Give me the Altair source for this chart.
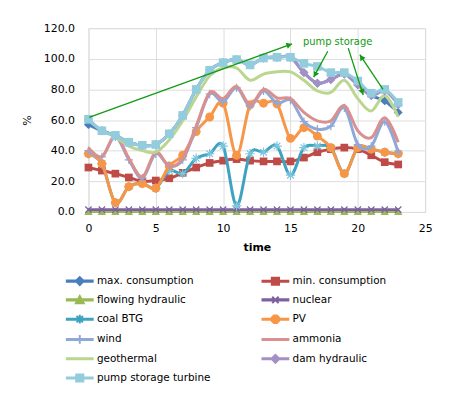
import math
import altair as alt
import pandas as pd

# ---------------- data ----------------
hours = list(range(24))

series_names = [
    "max. consumption", "min. consumption", "flowing hydraulic", "nuclear",
    "coal BTG", "PV", "wind", "ammonia", "geothermal", "dam hydraulic",
    "pump storage turbine",
]

max_consumption = [57, 53, 50, 45.5, 43.5, 44, 51, 63, 80, 92.5, 97.5, 99.5,
                   96, 100.5, 101, 101, 91, 84, 86.5, 90, 83, 76, 72.5, 65]
min_consumption = [29, 27, 25, 22.5, 20, 20.5, 22, 25.5, 29, 32, 33.5, 34.5,
                   33.5, 33, 33, 33, 35.5, 39, 41, 42, 41, 37, 32.5, 31]
flowing_hydraulic = [0.3, 0.3, 0.3, 0.3, 0.3, 0.3, 0.3, 0.3, 0.3, 0.3, 0.3, 0.3,
                     0.3, 0.3, 0.3, 0.3, 0.3, 0.3, 0.3, 0.3, 0.3, 0.3, 0.3, 0.3]
nuclear = [1.5, 1.5, 1.5, 1.5, 1.5, 1.5, 1.5, 1.5, 1.5, 1.5, 1.5, 1.5,
           1.5, 1.5, 1.5, 1.5, 1.5, 1.5, 1.5, 1.5, 1.5, 1.5, 1.5, 1.5]
coal_btg = [38, 31.5, 6, 16.5, 18.5, 15.5, 27, 25, 35, 38, 43, 4,
            38, 39, 43, 24, 42, 43, 42, 25, 42, 41, 39, 38]
pv = [38, 31.5, 6, 16.5, 18.5, 15.5, 30, 37, 52.5, 62, 71, 37,
      70, 71, 70.5, 48, 55, 49.5, 42, 25, 42, 41, 39, 38]
wind = [40, 36, 49, 34, 22, 38, 30, 34, 55, 77, 72, 81,
        69, 79, 71, 73, 59, 54, 56, 68, 44, 43, 59, 39]
ammonia = [42, 36, 50, 35, 23, 39, 30, 35, 56, 78, 74, 82,
           70, 80, 74.5, 74, 65, 59.5, 59.5, 69.5, 53, 48.5, 61.5, 45.5]
geothermal = [60, 53, 49, 43, 40, 39, 47, 59.5, 75, 89, 94, 94,
              86, 90, 91.5, 91.5, 86, 79, 78, 86, 74, 66, 76, 62]
dam_hydraulic = [60.5, 53, 50, 45.5, 43.5, 44, 51, 63, 80, 92.5, 97.5, 99.5,
                 96, 100.5, 101, 101, 91, 84, 86.5, 90, 83, 76, 79, 70]
pump_storage = [60.5, 53, 50, 45.5, 43.5, 44, 51, 63, 80, 92.5, 97.5, 99.5,
                96, 100.5, 101, 101, 97, 95, 91, 91, 85.5, 77.5, 80, 71.5]

series_values = [max_consumption, min_consumption, flowing_hydraulic, nuclear,
                 coal_btg, pv, wind, ammonia, geothermal, dam_hydraulic,
                 pump_storage]

x_ticks = [0, 5, 10, 15, 20, 25]
y_ticks = [0, 20, 40, 60, 80, 100, 120]

# annotation ("pump storage" arrows), in data units
annot_text = ["pump storage"]
annot_x = [18.5]
annot_y = [110.7]
arrow_x0 = [0.05, 17.77, 19.29, 21.87]
arrow_y0 = [61.7, 104.9, 107.0, 80.1]
arrow_x1 = [15.12, 16.72, 20.40, 20.15]
arrow_y1 = [109.8, 88.0, 76.4, 102.7]

# ---------------- styles ----------------
line_colors = ["#4A7EBB", "#BE4B48", "#98B954", "#7D60A0", "#3FA3C0", "#F79646",
               "#8FA8DA", "#D9908E", "#BBD68F", "#A590C6", "#93CDDD"]
marker_colors = ["#4A7EBB", "#BE4B48", "#98B954", "#7D60A0", "#7CC6DE", "#F79646",
                 "#8FA8DA", None, None, "#A590C6", "#93CDDD"]

X_PATH = "M-1,-1L1,1M-1,1L1,-1"
AST_PATH = "M-1,0H1M0,-1V1M-0.7,-0.7L0.7,0.7M-0.7,0.7L0.7,-0.7"
PLUS_PATH = "M-1,0H1M0,-1V1"
# (shape, size, filled, strokeWidth)
markers = [
    ("diamond", 80, True, 1),
    ("square", 60, True, 1),
    ("triangle-up", 70, True, 1),
    (X_PATH, 40, False, 1.2),
    (AST_PATH, 90, False, 1.2),
    ("circle", 80, True, 1),
    (PLUS_PATH, 70, False, 1.2),
    None,
    None,
    ("diamond", 80, True, 1),
    ("square", 75, True, 1),
]

W, H = 339, 185
FONT = "DejaVu Sans"
GRID = "#868686"
GREEN = "#129A12"

x_scale = alt.Scale(domain=[0, 25], nice=False)
y_scale = alt.Scale(domain=[0, 120], nice=False)

x_axis = alt.Axis(
    values=x_ticks, grid=True, domain=False, ticks=False, labelPadding=11,
    labelFont=FONT, labelFontSize=11, labelColor="black", labelFlush=False,
    labelOverlap=False,
    title="time", titleFont=FONT, titleFontSize=11, titleFontWeight="bold",
    titleColor="black", titleY=36, titleBaseline="middle")
y_axis = alt.Axis(
    values=y_ticks, grid=True, domain=False, ticks=False, labelPadding=14,
    format=".1f", labelFont=FONT, labelFontSize=11, labelColor="black",
    labelFlush=False, labelOverlap=False, title="%", titleFont=FONT,
    titleFontSize=11, titleFontWeight="normal", titleColor="black",
    titleX=-61, titleY=H / 2, titleAlign="center", titleBaseline="middle")


def XQ(field):
    return alt.X(field, type="quantitative", scale=x_scale, axis=x_axis)


def YQ(field):
    return alt.Y(field, type="quantitative", scale=y_scale, axis=y_axis)


layers = []

# ---------------- legend (invisible helper layer) ----------------
def legend_path(kind):
    cx = 2.25
    line = "M-1.25,-0.15H5.75M-1.25,0.15H5.75"
    parts = [line]
    if kind == "diamond":
        for r in (1.0, 0.6, 0.2):
            parts.append(f"M{cx-r},0L{cx},{-r}L{cx+r},0L{cx},{r}Z")
    elif kind == "square":
        for r in (0.9, 0.5, 0.12):
            parts.append(f"M{cx-r},{-r}H{cx+r}V{r}H{cx-r}Z")
    elif kind == "triangle":
        for r in (1.0, 0.55, 0.15):
            parts.append(f"M{cx},{-r}L{cx+r},{0.8*r}L{cx-r},{0.8*r}Z")
    elif kind == "x":
        parts.append(f"M{cx-0.8},-0.8L{cx+0.8},0.8M{cx-0.8},0.8L{cx+0.8},-0.8")
    elif kind == "asterisk":
        parts.append(f"M{cx-1.1},0H{cx+1.1}M{cx},-1.1V1.1"
                     f"M{cx-0.8},-0.8L{cx+0.8},0.8M{cx-0.8},0.8L{cx+0.8},-0.8")
    elif kind == "circle":
        for r in (1.0, 0.55, 0.15):
            pts = []
            for k in range(8):
                a = math.pi / 4 * k + math.pi / 8
                pts.append(f"{cx + r*math.cos(a):.3f},{r*math.sin(a):.3f}")
            parts.append("M" + "L".join(pts) + "Z")
    elif kind == "plus":
        parts.append(f"M{cx-1.1},0H{cx+1.1}M{cx},-1.1V1.1")
    return "".join(parts)

legend_kinds = ["diamond", "square", "triangle", "x", "asterisk", "circle",
                "plus", "none", "none", "diamond", "square"]
legend_paths = [legend_path(k) for k in legend_kinds]

rows = []
for name, vals in zip(series_names, series_values):
    for h, v in zip(hours, vals):
        rows.append({"series": name, "h": h, "v": v})
long_df = pd.DataFrame(rows)

legend_def = alt.Legend(
    title=None, orient="none", legendX=-23, legendY=249, columns=2,
    direction="horizontal",
    columnPadding=46, rowPadding=2.4, symbolSize=64, symbolStrokeWidth=2,
    symbolOpacity=1, labelFont=FONT, labelFontSize=10.5, labelColor="black",
    labelOffset=21, padding=0)

legend_layer = alt.Chart(long_df).mark_point(opacity=0, filled=False).encode(
    x=XQ("h"), y=YQ("v"),
    color=alt.Color("series:N", sort=series_names,
                    scale=alt.Scale(domain=series_names, range=line_colors),
                    legend=legend_def),
    shape=alt.Shape("series:N", sort=series_names,
                    scale=alt.Scale(domain=series_names, range=legend_paths),
                    legend=legend_def),
)
layers.append(legend_layer)

# ---------------- series ----------------
for i, (name, vals) in enumerate(zip(series_names, series_values)):
    df = pd.DataFrame({"h": hours, "v": vals})
    base = alt.Chart(df)
    layers.append(base.mark_line(color=line_colors[i], strokeWidth=3,
                                 interpolate="cardinal", tension=0)
                  .encode(x=XQ("h"), y=YQ("v")))
    if markers[i] is not None:
        shape, size, filled, sw = markers[i]
        layers.append(base.mark_point(shape=shape, size=size, filled=filled,
                                      color=marker_colors[i], strokeWidth=sw,
                                      opacity=1)
                      .encode(x=XQ("h"), y=YQ("v")))

# ---------------- annotation ----------------
px_x = W / 25.0
px_y = H / 120.0
adf = pd.DataFrame({"x0": arrow_x0, "y0": arrow_y0, "x1": arrow_x1, "y1": arrow_y1})
angs, hx, hy = [], [], []
for x0, y0, x1, y1 in zip(arrow_x0, arrow_y0, arrow_x1, arrow_y1):
    dx = (x1 - x0) * px_x
    dy = -(y1 - y0) * px_y
    ln = math.hypot(dx, dy)
    ang = math.degrees(math.atan2(dx, -dy)) % 360
    angs.append(ang)
    back = 3.0
    hx.append(x1 - dx / ln * back / px_x)
    hy.append(y1 + dy / ln * back / px_y)
adf["ang"] = angs
adf["hx"] = hx
adf["hy"] = hy

arrow_lines = alt.Chart(adf).mark_rule(color=GREEN, strokeWidth=1.3).encode(
    x=XQ("x0"), y=YQ("y0"), x2="x1:Q", y2="y1:Q")
arrow_heads = alt.Chart(adf).mark_point(shape="triangle-up", filled=True,
                                        color=GREEN, size=40, opacity=1).encode(
    x=XQ("hx"), y=YQ("hy"), angle=alt.Angle("ang:Q", scale=None))
tdf = pd.DataFrame({"t": annot_text, "x": annot_x, "y": annot_y})
annot = alt.Chart(tdf).mark_text(color=GREEN, font=FONT, fontSize=10,
                                 align="center", baseline="middle").encode(
    x=XQ("x"), y=YQ("y"), text="t:N")
layers += [arrow_lines, arrow_heads, annot]

chart = alt.layer(*layers).properties(
    width=W, height=H,
    autosize=alt.AutoSizeParams(type="none"),
    padding={"left": 81, "top": 19, "right": 20, "bottom": 180},
).configure_view(stroke=GRID, strokeWidth=1).configure_axis(
    gridColor=GRID, gridWidth=1, gridOpacity=1
).configure(background="white")

chart.save("out.html", embed_options={"renderer": "svg", "actions": False})
